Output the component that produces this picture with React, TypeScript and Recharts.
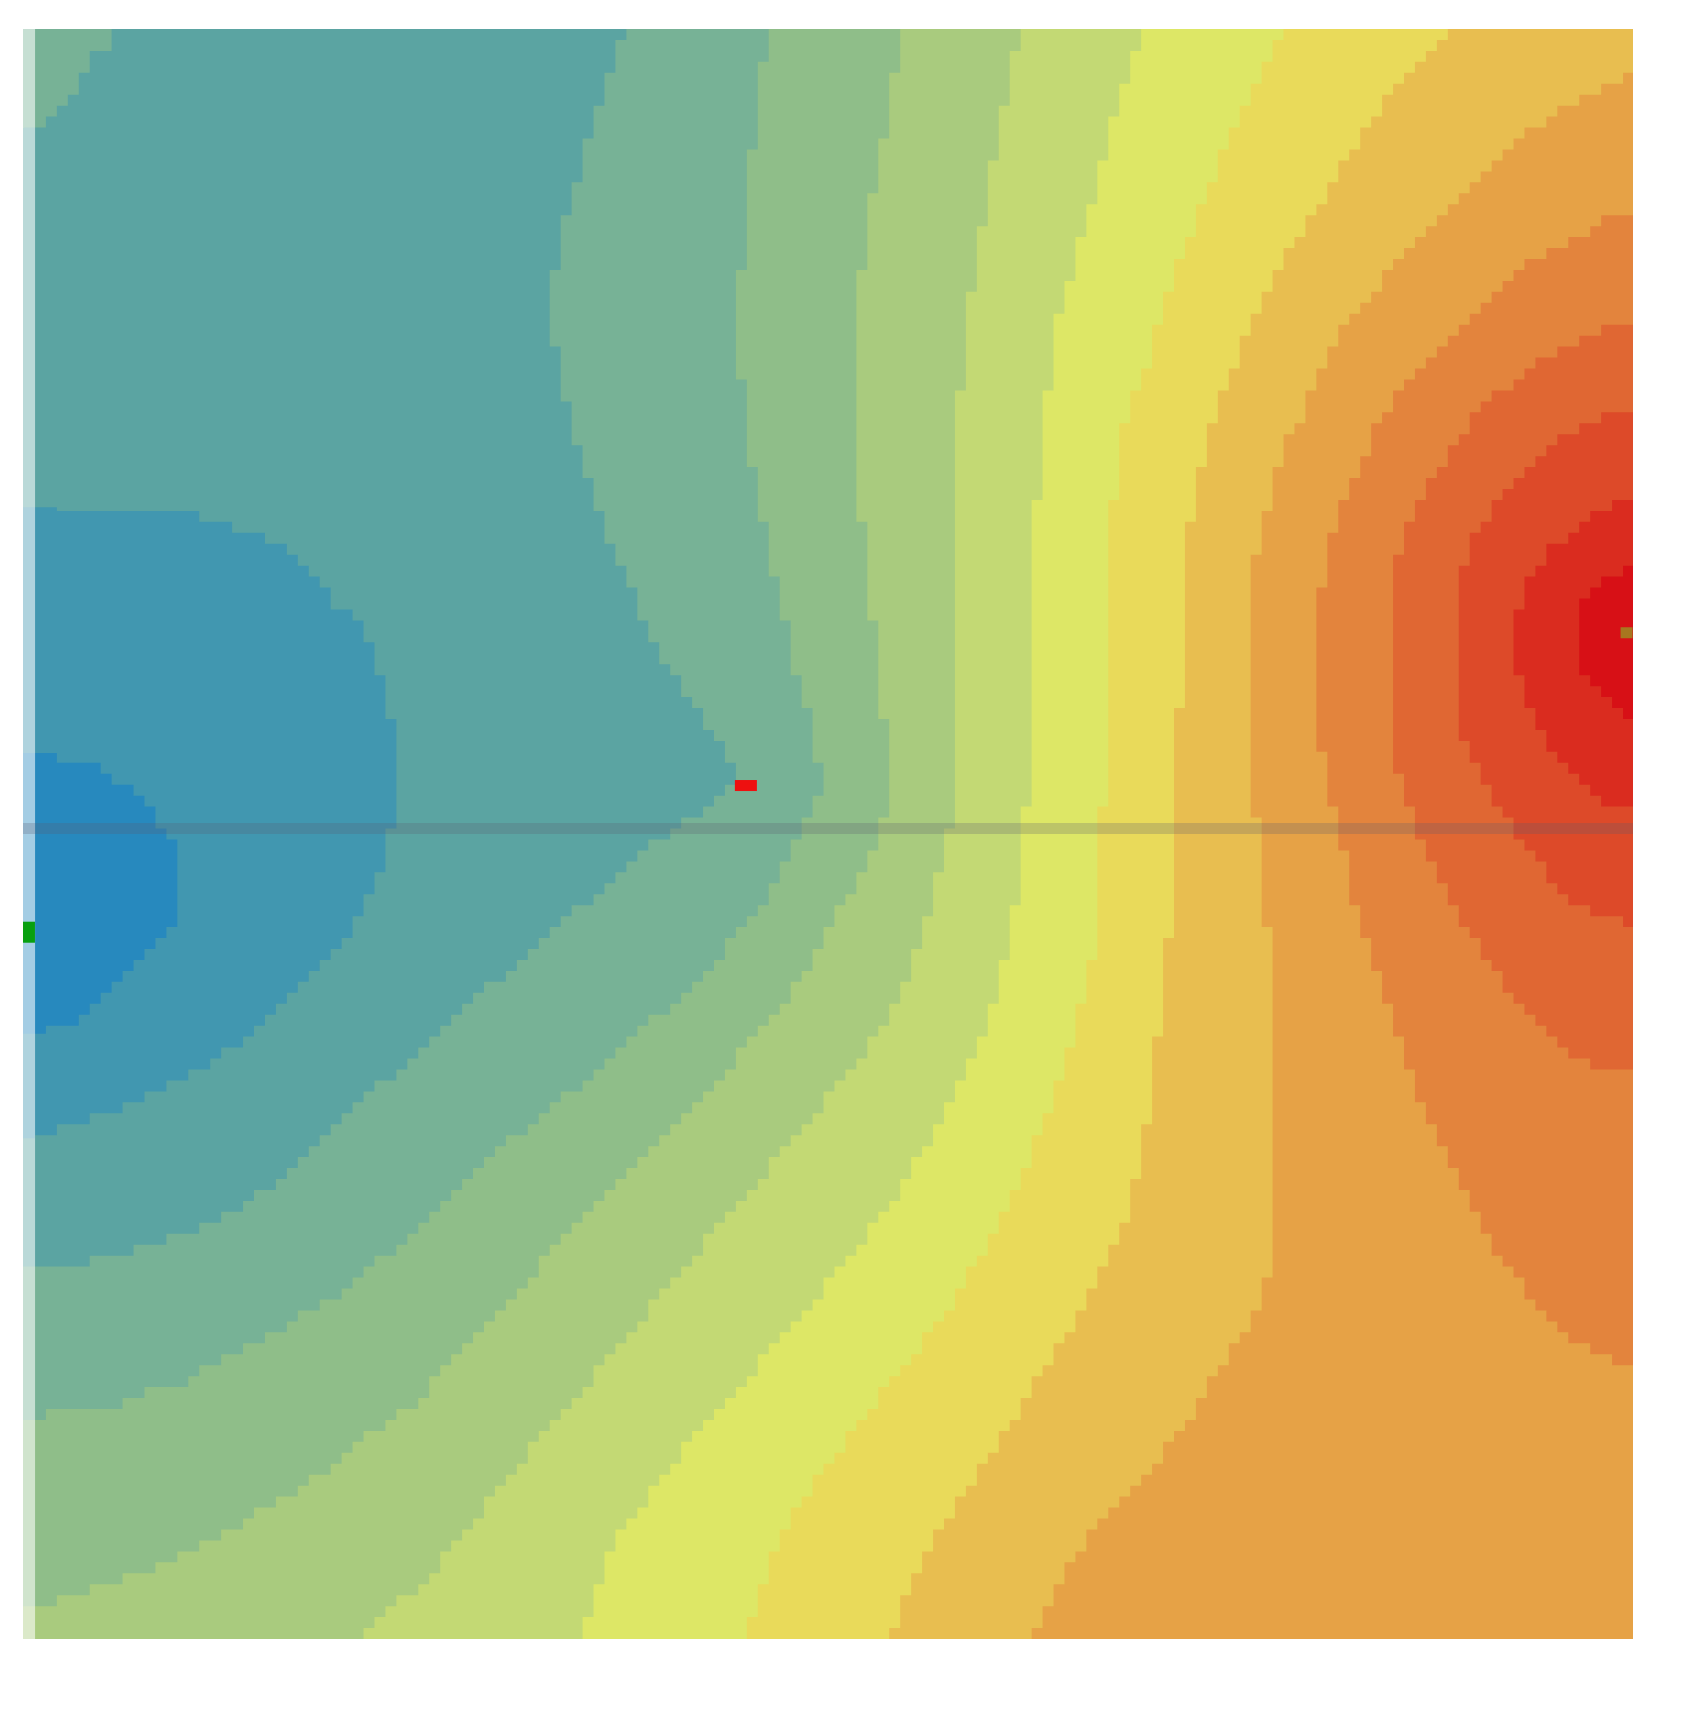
import React from "react";
import { ComposedChart, Area, Scatter, XAxis, YAxis } from "recharts";

// each edge is a list of [y, x] points in % of the plot (y from the top),
// the border between colour band k-1 (left) and band k (right)
const EDGE_1: [number, number][] = [
  [44.97, 0], [45.4, 3.2], [46.3, 5.5], [47.0, 6.3], [47.7, 7.3], [48.6, 8.2], [50.1, 8.9],
  [51.0, 9.6], [55.0, 9.6], [56.1, 8.9], [57.1, 8.2], [57.8, 7.5], [58.4, 6.8], [59.1, 6.1],
  [59.8, 5.5], [60.5, 4.8], [61.2, 3.9], [61.9, 3.4], [62.4, 0],
];
const EDGE_2: [number, number][] = [
  [29.7, 0], [30.0, 5.4], [30.3, 11.5], [31.1, 13.6], [31.8, 15.3], [32.7, 17.0], [34.0, 18.3],
  [35.4, 19.0], [36.4, 20.4], [38.5, 21.8], [40.8, 22.4], [43.2, 23.0], [48.7, 23.1], [51.4, 22.4],
  [53.4, 21.8], [54.8, 21.1], [56.2, 20.4], [57.2, 19.4], [58.2, 18.3], [59.6, 17.0], [60.9, 15.6],
  [62.3, 14.3], [63.7, 12.5], [65.0, 10.2], [66.4, 7.4], [67.4, 5.0], [68.3, 2.7], [68.9, 0],
];
const EDGE_3: [number, number][] = [
  [0, 37.4], [2.3, 36.7], [5.0, 35.7], [8.5, 34.7], [11.9, 33.7], [15.3, 33.0], [18.0, 32.7],
  [22.1, 33.5], [25.5, 34.2], [28.9, 35.4], [32.3, 36.7], [35.7, 38.1], [39.1, 39.8], [41.9, 41.5],
  [43.9, 42.9], [44.5, 43.5], [46.3, 44.2], [47.6, 43.5], [48.3, 42.9], [49.0, 41.5], [49.7, 40.8],
  [50.4, 39.4], [51.1, 38.8], [54.1, 35.2], [57.2, 31.5], [60.3, 28.1], [63.4, 24.7], [66.5, 21.2],
  [69.6, 17.8], [72.7, 14.4], [73.3, 13.0], [74.0, 11.6], [74.7, 10.3], [75.3, 8.2], [76.0, 6.2],
  [76.7, 3.4], [77.1, 0], [100, 0],
];
const EDGE_4: [number, number][] = [
  [0, 46.3], [5.0, 45.6], [11.9, 44.8], [18.6, 44.4], [25.5, 44.9], [32.3, 46.3], [39.1, 47.8],
  [44.2, 49.2], [47.3, 49.7], [48.6, 49.0], [49.8, 48.4], [51.6, 47.6], [54.1, 46.1], [57.2, 43.6],
  [60.3, 40.5], [63.4, 37.1], [66.5, 33.4], [69.6, 29.6], [73.0, 25.9], [74.4, 24.5], [75.5, 23.5],
  [76.6, 21.8], [78.0, 20.4], [78.9, 19.1], [80.1, 17.0], [81.1, 15.3], [82.1, 13.7], [82.8, 12.3],
  [83.5, 10.9], [84.2, 9.6], [84.8, 7.5], [85.5, 5.5], [86.1, 1.4], [86.5, 0], [100, 0],
];
const EDGE_5: [number, number][] = [
  [0, 54.5], [5.0, 53.8], [11.9, 52.4], [18.6, 51.7], [25.5, 51.6], [32.3, 52.3], [39.1, 53.1],
  [45.9, 53.8], [48.6, 53.7], [50.1, 53.0], [51.6, 52.5], [54.1, 51.1], [57.2, 49.2], [60.3, 47.6],
  [66.5, 42.0], [72.7, 35.8], [78.9, 30.2], [83.4, 25.9], [84.5, 25.2], [85.8, 23.9], [87.1, 21.8],
  [88.5, 20.4], [89.9, 18.4], [91.2, 16.3], [92.5, 14.1], [93.9, 11.6], [95.3, 8.9], [96.0, 7.3],
  [96.6, 5.5], [97.3, 3.4], [97.9, 1.4], [98.3, 0], [100, 0],
];
const EDGE_6: [number, number][] = [
  [0, 62.0], [5.0, 60.9], [11.9, 59.6], [18.6, 58.6], [25.5, 57.9], [32.3, 57.8], [39.1, 57.9],
  [45.9, 58.2], [49.6, 57.5], [52.7, 56.8], [56.1, 55.8], [59.6, 54.8], [63.4, 52.3], [69.6, 47.3],
  [75.8, 42.0], [82.1, 36.8], [88.3, 31.5], [95.3, 25.9], [97.0, 24.2], [98.8, 21.8], [100, 20.9],
];
const EDGE_7: [number, number][] = [
  [0, 70.1], [0.7, 69.4], [2.05, 68.7], [4.8, 68.0], [6.8, 67.3], [9.5, 66.9], [18.6, 64.0],
  [25.5, 63.4], [32.3, 62.7], [39.1, 62.7], [45.9, 62.7], [49.6, 62.0], [52.7, 62.0], [59.6, 60.6],
  [63.0, 59.3], [66.4, 57.9], [73.2, 53.8], [80.0, 48.3], [86.8, 42.2], [93.7, 36.8], [100, 34.7],
];
const EDGE_8: [number, number][] = [
  [0, 78.2], [1.4, 77.5], [2.7, 76.9], [4.1, 76.2], [5.5, 75.5], [6.8, 74.8], [8.5, 74.2],
  [10.2, 73.5], [11.9, 72.8], [13.6, 72.1], [15.6, 71.4], [17.9, 70.7], [20.0, 70.1], [22.0, 69.4],
  [25.5, 68.1], [32.3, 67.5], [39.1, 67.5], [45.9, 67.5], [49.6, 66.8], [56.1, 66.8], [59.6, 66.1],
  [66.4, 64.0], [73.2, 61.3], [80.0, 57.2], [86.8, 51.7], [93.7, 46.9], [100, 44.9],
];
const EDGE_9: [number, number][] = [
  [0, 88.4], [1.0, 87.7], [1.7, 87.0], [2.4, 86.3], [3.0, 85.7], [3.7, 85.0], [4.8, 84.3],
  [5.8, 83.7], [6.8, 83.0], [7.8, 82.3], [9.1, 81.6], [10.5, 80.9], [11.2, 80.3], [12.2, 79.6],
  [13.2, 78.9], [14.3, 78.2], [15.6, 77.5], [16.9, 76.8], [18.6, 76.2], [20.3, 75.5], [22.0, 74.8],
  [25.5, 73.5], [32.3, 72.2], [39.1, 72.1], [45.9, 71.5], [52.7, 71.5], [59.6, 70.8], [66.4, 70.1],
  [73.2, 68.8], [80.0, 65.4], [86.8, 61.3], [93.7, 56.5], [100, 53.8],
];
const EDGE_10: [number, number][] = [
  [0, 100], [2.5, 100], [3.0, 99.3], [3.7, 98.0], [4.4, 96.6], [5.1, 95.2], [5.8, 94.5],
  [6.5, 93.2], [7.9, 91.8], [9.2, 90.4], [10.5, 89.1], [11.9, 87.7], [13.3, 86.3], [15.0, 85.0],
  [16.6, 83.6], [18.3, 82.3], [20.3, 80.9], [23.7, 79.6], [26.3, 78.2], [29.1, 77.5], [31.7, 76.8],
  [33.5, 76.2], [41.7, 76.2], [47.9, 76.2], [50.0, 76.8], [54.1, 77.1], [57.5, 77.5], [66.5, 77.5],
  [77.1, 77.5], [78.3, 76.8], [79.8, 76.5], [83.4, 74.2], [86.8, 72.2], [90.2, 69.4], [93.7, 66.1],
  [97.0, 64.0], [100, 62.7],
];
const EDGE_11: [number, number][] = [
  [0, 100], [11.5, 100], [11.9, 98.0], [12.5, 97.3], [13.2, 95.9], [13.9, 94.5], [15.3, 92.5],
  [16.6, 91.1], [18.0, 89.8], [19.3, 88.4], [20.7, 87.0], [22.0, 85.7], [24.3, 84.3], [27.1, 83.0],
  [30.4, 81.6], [33.2, 80.9], [38.6, 80.2], [43.9, 80.4], [46.0, 80.9], [50.0, 81.6], [52.1, 82.3],
  [55.5, 83.0], [58.8, 84.3], [61.4, 85.0], [63.5, 85.7], [65.5, 86.3], [66.9, 87.0], [68.2, 87.7],
  [70.2, 88.4], [71.6, 89.1], [73.0, 89.8], [74.2, 90.4], [76.3, 91.8], [77.1, 92.5], [78.4, 93.2],
  [79.8, 94.5], [81.1, 95.9], [81.7, 96.6], [82.4, 98.0], [83.1, 100], [100, 100],
];
const EDGE_12: [number, number][] = [
  [0, 100], [18.0, 100], [18.3, 98.6], [18.9, 97.3], [19.6, 95.9], [20.3, 94.5], [21.7, 93.2],
  [22.3, 91.8], [23.7, 90.4], [25.7, 89.1], [27.7, 87.7], [29.1, 87.0], [30.4, 86.3], [31.8, 85.7],
  [34.4, 85.0], [45.3, 85.0], [46.6, 85.7], [48.6, 86.3], [50.7, 87.0], [52.0, 87.7], [53.7, 88.4],
  [55.1, 89.1], [56.1, 89.8], [57.1, 90.4], [58.1, 91.1], [59.1, 91.8], [60.5, 93.2], [61.8, 94.5],
  [62.5, 95.2], [63.2, 95.9], [63.9, 96.6], [64.5, 98.0], [64.8, 100], [100, 100],
];
const EDGE_13: [number, number][] = [
  [0, 100], [23.4, 100], [23.7, 99.3], [24.3, 98.0], [25.0, 96.6], [25.7, 95.2], [27.0, 93.9],
  [28.4, 92.5], [29.1, 91.8], [30.4, 91.1], [31.1, 90.4], [32.5, 89.8], [34.4, 89.1], [43.4, 89.1],
  [44.8, 89.8], [46.3, 90.4], [47.7, 91.1], [49.6, 92.5], [50.4, 93.2], [51.4, 93.9], [52.4, 94.5],
  [53.1, 95.2], [53.7, 95.9], [54.4, 96.6], [55.1, 98.0], [55.5, 100], [100, 100],
];
const EDGE_14: [number, number][] = [
  [0, 100], [28.8, 100], [29.1, 99.3], [29.8, 98.0], [30.7, 96.6], [31.4, 95.9], [32.1, 95.2],
  [32.7, 94.5], [33.7, 93.9], [35.2, 93.2], [37.9, 92.5], [38.9, 92.5], [40.5, 93.2], [42.9, 93.9],
  [44.3, 94.5], [45.0, 95.2], [45.7, 95.9], [46.3, 96.6], [47.0, 97.3], [47.7, 98.0], [48.3, 98.6],
  [48.6, 100], [100, 100],
];
const EDGE_15: [number, number][] = [
  [0, 100], [33.3, 100], [33.9, 98.6], [34.5, 98.0], [35.2, 97.3], [36.0, 96.6], [39.8, 96.6],
  [40.4, 97.3], [41.5, 98.0], [42.2, 98.9], [42.7, 100], [100, 100],
];
// small pocket of band 3 in the top-left corner
const CORNER: [number, number][] = [
  [0, 5.5], [0.75, 5.5], [1.4, 4.8], [2.05, 4.1], [3.4, 3.4], [4.1, 2.9], [4.8, 2.4],
  [5.5, 1.7], [6.1, 1.1], [6.15, 0],
];
const FULL: [number, number][] = [[0, 100], [100, 100]];
const STRIP: [number, number][] = [[0, 0.75], [100, 0.75]];
const CUT_LINE: [number, number][] = [[49.32, 100], [50.0, 100]];

const EDGES = [
  EDGE_1, EDGE_2, EDGE_3, EDGE_4, EDGE_5, EDGE_6, EDGE_7, EDGE_8,
  EDGE_9, EDGE_10, EDGE_11, EDGE_12, EDGE_13, EDGE_14, EDGE_15,
];

const BAND_COLORS = [
  "#2789be", "#4197b0", "#5ba4a2", "#77b296", "#8fbe89", "#a9cb7e", "#c3d974", "#dde766",
  "#e9da5a", "#e8be50", "#e6a246", "#e3843d", "#e06733", "#dd4a29", "#da2c1f", "#d71016",
];

const SINK = [{ x: 0.37, y: 56.1 }];
const PROBE = [{ x: 44.9, y: 46.99 }];
const SOURCE = [{ x: 99.6, y: 37.5 }];

// layout of the plot inside the svg
const MARGIN = { top: 21, right: 25, bottom: 19, left: 15 };
const PLOT = 1610;
const CELL = PLOT / 147;
const LEFT = MARGIN.left;
const RIGHT = MARGIN.left + PLOT;

const toRows = (pts: [number, number][]) => pts.map(([y, x]) => ({ y, x }));

// turn a y-monotone polyline into the blocky staircase of the raster grid
function toStairs(pts: [number, number][]) {
  if (pts.length < 2) return pts;
  const asc = [...pts].sort((a, b) => a[1] - b[1]);
  const lo = asc[0][1];
  const hi = asc[asc.length - 1][1];
  const xAt = (y: number) => {
    for (let i = 1; i < asc.length; i++) {
      const [x0, y0] = asc[i - 1];
      const [x1, y1] = asc[i];
      if (y <= y1) return y1 === y0 ? x1 : x0 + ((x1 - x0) * (y - y0)) / (y1 - y0);
    }
    return asc[asc.length - 1][0];
  };
  const snap = (x: number) => {
    if (Math.abs(x - LEFT) < 1 || Math.abs(x - RIGHT) < 1) return x;
    const s = LEFT + 1 + Math.round((x - LEFT - 1) / CELL) * CELL;
    return Math.min(RIGHT, Math.max(LEFT, s));
  };
  const rows: [number, number, number][] = [];
  let k = Math.floor((lo - MARGIN.top) / CELL);
  while (MARGIN.top + k * CELL < hi) {
    const top = Math.max(lo, MARGIN.top + k * CELL);
    const bot = Math.min(hi, MARGIN.top + (k + 1) * CELL);
    if (bot > top) rows.push([snap(xAt((top + bot) / 2)), top, bot]);
    k++;
  }
  const down = pts[pts.length - 1][1] >= pts[0][1];
  if (!down) rows.reverse();
  const out: [number, number][] = [];
  rows.forEach(([x, top, bot]) => {
    if (down) out.push([x, top], [x, bot]);
    else out.push([x, bot], [x, top]);
  });
  return out;
}

const stairCurve = (context: any) => {
  let pts: [number, number][] = [];
  let line = NaN;
  return {
    areaStart() { line = 0; },
    areaEnd() { line = NaN; },
    lineStart() { pts = []; },
    point(x: number, y: number) { pts.push([x, y]); },
    lineEnd() {
      const out = toStairs(pts);
      out.forEach(([x, y], i) => (i === 0 && !line ? context.moveTo(x, y) : context.lineTo(x, y)));
      if (line || (line !== 0 && out.length === 1)) context.closePath();
      line = 1 - line;
    },
  };
};

const box = (w: number, h: number, fill: string) => (props: any) => (
  <rect x={props.cx - w / 2} y={props.cy - h / 2} width={w} height={h} fill={fill} />
);

export default function App() {
  const band = (key: string, pts: [number, number][], fill: string, opacity = 1, curve: any = stairCurve) => (
    <Area
      key={key}
      data={toRows(pts)}
      dataKey="x"
      type={curve}
      stroke="none"
      fill={fill}
      fillOpacity={opacity}
      dot={false}
      activeDot={false}
      isAnimationActive={false}
    />
  );

  const layers = [];
  for (let k = EDGES.length; k >= 1; k--) {
    layers.push(band(`edge-${k}`, EDGES[k - 1], BAND_COLORS[k - 1]));
  }

  return (
    <ComposedChart width={1650} height={1650} layout="vertical" margin={MARGIN}>
      <XAxis type="number" dataKey="x" domain={[0, 100]} allowDataOverflow hide />
      <YAxis type="number" dataKey="y" domain={[0, 100]} allowDataOverflow hide />
      {band("full", FULL, BAND_COLORS[15], 1, "linear")}
      {layers}
      {band("corner", CORNER, BAND_COLORS[3])}
      {band("strip", STRIP, "#ffffff", 0.58, "linear")}
      {band("cut", CUT_LINE, "#5a5a70", 0.25, "linear")}
      <Scatter data={SINK} shape={box(12, 21, "#08a010")} isAnimationActive={false} />
      <Scatter data={PROBE} shape={box(22, 11, "#ee1010")} isAnimationActive={false} />
      <Scatter data={SOURCE} shape={box(12, 11, "#a8761f")} isAnimationActive={false} />
    </ComposedChart>
  );
}
